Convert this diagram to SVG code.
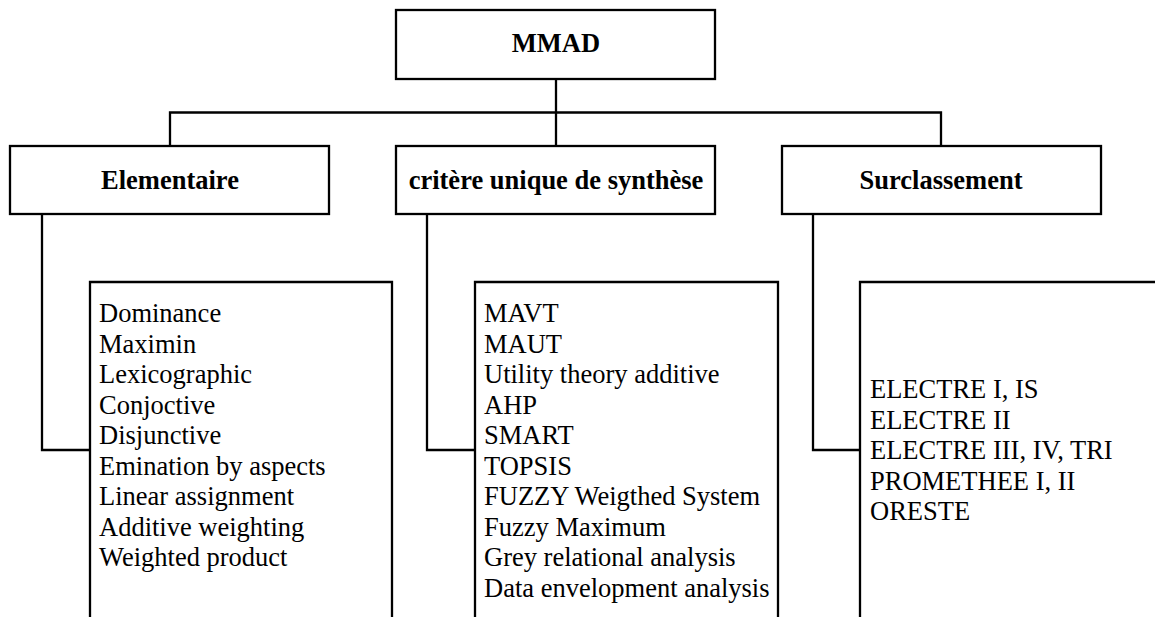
<svg xmlns="http://www.w3.org/2000/svg" width="1155" height="617" viewBox="0 0 1155 617">
<style>
.box{fill:#fff;stroke:#000;stroke-width:2.3}
.conn{fill:none;stroke:#000;stroke-width:2.3}
.h{font-family:"Liberation Serif","Times New Roman",serif;font-size:26.5px;font-weight:bold;text-anchor:middle;fill:#000}
.t{font-family:"Liberation Serif","Times New Roman",serif;font-size:26.5px;fill:#000}
</style>
<rect width="1155" height="617" fill="#fff"/>
<g id="connectors">
<path class="conn" d="M556,79 V146"/>
<path class="conn" d="M170,146 V112.5 H941 V146"/>
<path class="conn" d="M42,214 V450 H90"/>
<path class="conn" d="M427,214 V450 H475"/>
<path class="conn" d="M813,214 V450 H860"/>
</g>
<g id="mmad">
<rect class="box" x="396" y="10" width="319" height="69"/>
<text class="h" x="556" y="52">MMAD</text>
</g>
<g id="elementaire">
<rect class="box" x="10" y="146" width="319" height="68"/>
<text class="h" x="170" y="188.5">Elementaire</text>
</g>
<g id="critere">
<rect class="box" x="396" y="146" width="319" height="68"/>
<text class="h" x="556" y="188.5">critère unique de synthèse</text>
</g>
<g id="surclassement">
<rect class="box" x="782" y="146" width="319" height="68"/>
<text class="h" x="941" y="188.5">Surclassement</text>
</g>
<g id="list-elementaire">
<path class="box" d="M90,630 V282 H392 V630"/>
<text class="t" x="99" y="322">Dominance</text>
<text class="t" x="99" y="352.5">Maximin</text>
<text class="t" x="99" y="383">Lexicographic</text>
<text class="t" x="99" y="413.5">Conjoctive</text>
<text class="t" x="99" y="444">Disjunctive</text>
<text class="t" x="99" y="474.5">Emination by aspects</text>
<text class="t" x="99" y="505">Linear assignment</text>
<text class="t" x="99" y="535.5">Additive weighting</text>
<text class="t" x="99" y="566">Weighted product</text>
</g>
<g id="list-critere">
<path class="box" d="M475,630 V282 H778 V630"/>
<text class="t" x="484" y="322">MAVT</text>
<text class="t" x="484" y="352.5">MAUT</text>
<text class="t" x="484" y="383">Utility theory additive</text>
<text class="t" x="484" y="413.5">AHP</text>
<text class="t" x="484" y="444">SMART</text>
<text class="t" x="484" y="474.5">TOPSIS</text>
<text class="t" x="484" y="505">FUZZY Weigthed System</text>
<text class="t" x="484" y="535.5">Fuzzy Maximum</text>
<text class="t" x="484" y="566">Grey relational analysis</text>
<text class="t" x="484" y="596.5">Data envelopment analysis</text>
</g>
<g id="list-surclassement">
<path class="box" d="M860,630 V282 H1170"/>
<text class="t" x="870" y="398">ELECTRE I, IS</text>
<text class="t" x="870" y="428.5">ELECTRE II</text>
<text class="t" x="870" y="459">ELECTRE III, IV, TRI</text>
<text class="t" x="870" y="489.5">PROMETHEE I, II</text>
<text class="t" x="870" y="520">ORESTE</text>
</g>
</svg>
